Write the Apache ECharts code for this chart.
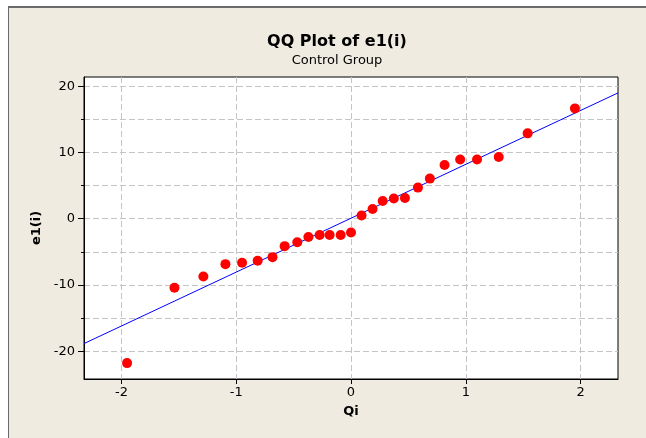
<!DOCTYPE html>
<html>
<head>
<meta charset="utf-8">
<script src="https://cdn.jsdelivr.net/npm/echarts@6/dist/echarts.min.js"></script>
<style>
html, body { margin: 0; padding: 0; background: #ffffff; }
#frame { position: absolute; left: 8px; top: 6px; width: 638px; height: 432px; background: #EFEBE0; border-left: 1px solid #6a6a6a; border-top: 2px solid #6a6a6a; box-sizing: border-box; }
#chart { position: absolute; left: 0; top: 0; width: 646px; height: 438px; }
</style>
</head>
<body>
<div id="frame"></div>
<div id="chart"></div>
<script>
// Data
const qi = [-1.951, -1.538, -1.286, -1.094, -0.949, -0.813, -0.684, -0.578, -0.468, -0.371, -0.273, -0.186, -0.090, 0.000, 0.092, 0.188, 0.276, 0.373, 0.470, 0.583, 0.687, 0.815, 0.951, 1.098, 1.287, 1.539, 1.951];
const e1 = [-21.8, -10.42, -8.72, -6.86, -6.65, -6.35, -5.80, -4.14, -3.55, -2.75, -2.45, -2.45, -2.45, -2.07, 0.48, 1.48, 2.69, 3.05, 3.14, 4.70, 6.06, 8.10, 8.95, 8.95, 9.33, 12.89, 16.66];
const fitQ = [-2.326, 2.326];
const fitE = [-18.85, 19.0];
const xTicks = [-2, -1, 0, 1, 2];
const yMajorTicks = [-20, -10, 0, 10, 20];
const yMinorTicks = [-15, -5, 5, 15];

const FONT = 'DejaVu Sans';
const chart = echarts.init(document.getElementById('chart'), null, { renderer: 'canvas' });

const points = qi.map((q, i) => [q, e1[i]]);
const fitLine = fitQ.map((q, i) => [q, fitE[i]]);

const dashed = { show: true, lineStyle: { color: '#c4c4c4', type: [6, 3], width: 1 } };

chart.setOption({
  backgroundColor: 'transparent',
  animation: false,
  title: [
    { text: 'QQ Plot of e1(i)', left: 332, top: 29, textAlign: 'center',
      textStyle: { fontFamily: FONT, fontSize: 16, fontWeight: 'bold', color: '#000' } },
    { text: 'Control Group', left: 332, top: 49, textAlign: 'center',
      textStyle: { fontFamily: FONT, fontSize: 13, fontWeight: 'normal', color: '#000' } }
  ],
  grid: { left: 84, top: 77, right: 28, bottom: 59, show: true, backgroundColor: '#ffffff', borderColor: '#000', borderWidth: 1, containLabel: false },
  xAxis: {
    type: 'value', min: -2.326, max: 2.326,
    name: 'Qi', nameLocation: 'middle', nameGap: 26,
    nameTextStyle: { fontFamily: FONT, fontSize: 13, fontWeight: 'bold', color: '#000' },
    axisLine: { show: true, onZero: false, lineStyle: { color: '#000' } },
    axisTick: { show: true, length: 5, customValues: xTicks, lineStyle: { color: '#000' } },
    axisLabel: { customValues: xTicks, margin: 7, fontFamily: FONT, fontSize: 13, color: '#000' },
    splitLine: dashed
  },
  yAxis: [
    {
      type: 'value', min: -24.2, max: 21.4,
      name: 'e1(i)', nameLocation: 'middle', nameGap: 38, nameRotate: 90,
      nameTextStyle: { fontFamily: FONT, fontSize: 13, fontWeight: 'bold', color: '#000' },
      axisLine: { show: true, onZero: false, lineStyle: { color: '#000' } },
      axisTick: { show: true, length: 6, customValues: yMajorTicks, lineStyle: { color: '#000' } },
      axisLabel: { customValues: yMajorTicks, margin: 9, fontFamily: FONT, fontSize: 13, color: '#000' },
      splitLine: dashed
    },
    {
      type: 'value', min: -24.2, max: 21.4, position: 'left', offset: 0,
      axisLine: { show: false, onZero: false },
      axisTick: { show: true, length: 3, customValues: yMinorTicks, lineStyle: { color: '#000' } },
      axisLabel: { show: false, customValues: yMinorTicks },
      splitLine: dashed
    }
  ],
  series: [
    {
      type: 'line', data: fitLine, showSymbol: false, symbol: 'none',
      lineStyle: { color: '#0000ff', width: 1 }, z: 2, silent: true
    },
    {
      type: 'scatter', data: points, symbol: 'circle', symbolSize: 10,
      itemStyle: { color: '#ff0000', opacity: 1 }, z: 3
    }
  ]
});
</script>
</body>
</html>
